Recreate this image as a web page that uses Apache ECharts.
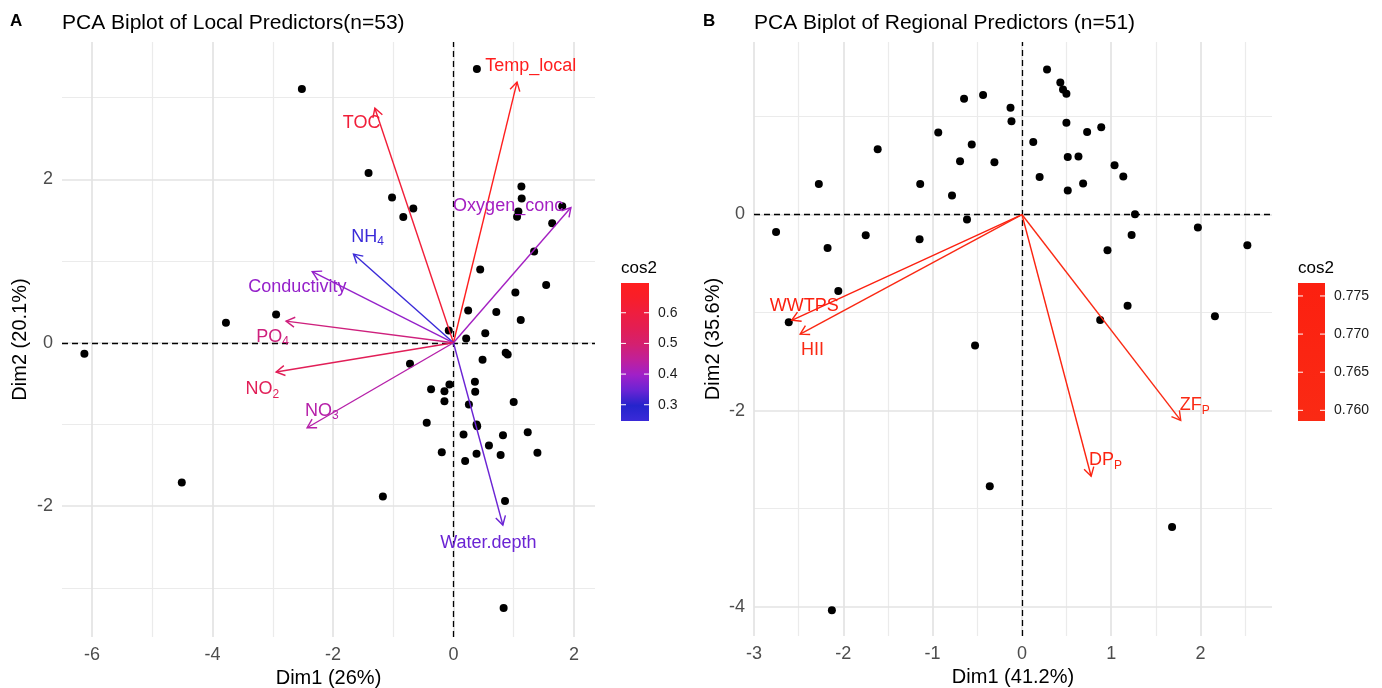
<!DOCTYPE html>
<html lang="en">
<head>
<meta charset="UTF-8">
<title>PCA biplots</title>
<script src="https://cdn.jsdelivr.net/npm/echarts@6/dist/echarts.min.js"></script>
<style>
    html, body { margin: 0; padding: 0; background: #fff; }
    #chart { width: 1382px; height: 688px; }
</style>
</head>
<body>
<div id="chart"></div>
<script>
// panel A - individuals (Dim1, Dim2)
var localPts = [
    [-2.517, 3.106], [-1.41, 2.077], [-1.02, 1.777], [-0.833, 1.54], [-0.667, 1.642],
    [-2.945, 0.345], [-3.778, 0.244], [-0.078, 0.15], [-6.128, -0.134], [-0.722, -0.256],
    [-0.372, -0.569], [-0.15, -0.593], [-0.067, -0.512], [-0.15, -0.715], [-0.444, -0.98],
    [-0.194, -1.341], [-4.511, -1.711], [-1.172, -1.882], [1.128, 1.911], [1.133, 1.764],
    [1.078, 1.606], [1.056, 1.541], [1.806, 1.671], [1.639, 1.463], [1.339, 1.118],
    [0.444, 0.898], [1.539, 0.707], [1.028, 0.614], [0.244, 0.394], [0.711, 0.378],
    [1.117, 0.28], [0.528, 0.118], [0.211, 0.052], [0.867, -0.122], [0.9, -0.142],
    [0.483, -0.207], [0.356, -0.476], [0.361, -0.598], [0.256, -0.756], [1.0, -0.724],
    [0.383, -1.0], [0.394, -1.02], [0.167, -1.122], [0.822, -1.13], [1.233, -1.094],
    [0.589, -1.256], [0.383, -1.358], [0.783, -1.374], [1.394, -1.346], [0.194, -1.447],
    [0.856, -1.935], [0.833, -3.244], [0.389, 3.35]
];
// panel A - variables
var localVars = ['Temp_local', 'TOC', 'Oxygen_conc', 'NH', 'Conductivity', 'PO', 'NO', 'NO', 'Water.depth'];
var localSubs = ['', '', '', '4', '', '4', '2', '3', ''];
var localVecs = [[1.055, 3.19], [-1.305, 2.87], [1.95, 1.655], [-1.66, 1.085], [-2.345, 0.87],
    [-2.78, 0.265], [-2.945, -0.357], [-2.43, -1.04], [0.82, -2.23]];
var localCos2 = [0.697, 0.613, 0.404, 0.248, 0.387, 0.481, 0.543, 0.431, 0.348];
var localLabelAt = [[1.283, 3.39], [-1.525, 2.683], [0.908, 1.674], [-1.425, 1.293], [-2.592, 0.679],
    [-3.005, 0.069], [-3.175, -0.569], [-2.187, -0.837], [0.58, -2.45]];

// panel B - individuals
var regionalPts = [
    [0.281, 1.48], [-0.648, 1.18], [-0.435, 1.22], [-0.128, 1.088], [-0.117, 0.952],
    [-0.937, 0.837], [-0.562, 0.714], [-1.615, 0.666], [0.127, 0.741], [-0.693, 0.544],
    [-0.308, 0.534], [0.198, 0.384], [-2.274, 0.312], [-1.139, 0.312], [-0.783, 0.194],
    [-0.615, -0.051], [-2.753, -0.178], [-1.749, -0.211], [-1.146, -0.252], [-2.176, -0.341],
    [-2.056, -0.78], [-2.611, -1.099], [-0.525, -1.337], [-0.36, -2.772], [-2.128, -4.038],
    [0.43, 1.347], [0.46, 1.276], [0.498, 1.231], [0.498, 0.935], [0.888, 0.891],
    [0.73, 0.843], [0.513, 0.588], [0.633, 0.592], [1.037, 0.503], [1.135, 0.388],
    [0.685, 0.316], [0.513, 0.245], [1.266, 0.003], [1.97, -0.133], [1.228, -0.208],
    [2.524, -0.313], [0.958, -0.364], [1.183, -0.932], [0.876, -1.075], [2.161, -1.038],
    [1.681, -3.188]
];
// panel B - variables
var regionalVars = ['WWTPS', 'HII', 'DP', 'ZF'];
var regionalSubs = ['', '', 'P', 'P'];
var regionalVecs = [[-2.578, -1.079], [-2.483, -1.221], [0.775, -2.67], [1.778, -2.10]];
var regionalCos2 = [0.7767, 0.7625, 0.7700, 0.7586];
var regionalLabelAt = [[-2.437, -0.936], [-2.345, -1.378], [0.936, -2.507], [1.936, -1.946]];

// axes ticks
var xTicksA = [-6, -4, -2, 0, 2], xMinorA = [-5, -3, -1, 1];
var yTicksA = [-2, 0, 2], yMinorA = [-3, -1, 1, 3];
var xTicksB = [-3, -2, -1, 0, 1, 2], xMinorB = [-2.5, -1.5, -0.5, 0.5, 1.5, 2.5];
var yTicksB = [-4, -2, 0], yMinorB = [-3, -1, 1];

// colour scales (cos2)
var cosRangeA = [0.247, 0.697];
var cosColorsA = ['#3a2ad8', '#2424cc', '#6a24d4', '#a020c8', '#c0209a', '#d42070', '#e21e55', '#ee1e40', '#f81e2a', '#ff1e1e'];
var cosTicksA = [0.3, 0.4, 0.5, 0.6];
var cosRangeB = [0.7586, 0.7767];
var cosColorsB = ['#fa2a14', '#fc2010'];
var cosTicksB = [0.760, 0.765, 0.770, 0.775];

var FONT = "'Liberation Sans', Arial, 'DejaVu Sans', sans-serif";

function tickFormatter(ticks) {
    return function (v) {
        for (var i = 0; i < ticks.length; i++) {
            if (Math.abs(v - ticks[i]) < 1e-6) return String(ticks[i]);
        }
        return '';
    };
}

function makeAxis(gridIndex, min, max, ticks, name, gap) {
    return {
        type: 'value', gridIndex: gridIndex, min: min, max: max, interval: 0.1,
        name: name, nameLocation: 'middle', nameGap: gap,
        nameTextStyle: { color: '#000', fontSize: 20, fontFamily: FONT },
        axisLine: { show: false }, axisTick: { show: false }, splitLine: { show: false },
        axisLabel: { color: '#4d4d4d', fontSize: 18, fontFamily: FONT, margin: 9, formatter: tickFormatter(ticks) }
    };
}

function gridSeries(xi, xMaj, xMin, yMaj, yMin) {
    var major = { color: '#e3e3e3', width: 1.7, type: 'solid' };
    var minor = { color: '#ebebeb', width: 1.2, type: 'solid' };
    var zero = { color: '#000', width: 1.3, type: [6, 4] };
    var d = [];
    xMin.forEach(function (v) { d.push({ xAxis: v, lineStyle: minor }); });
    yMin.forEach(function (v) { d.push({ yAxis: v, lineStyle: minor }); });
    xMaj.forEach(function (v) { d.push({ xAxis: v, lineStyle: major }); });
    yMaj.forEach(function (v) { d.push({ yAxis: v, lineStyle: major }); });
    d.push({ xAxis: 0, lineStyle: zero });
    d.push({ yAxis: 0, lineStyle: zero });
    return {
        type: 'line', xAxisIndex: xi, yAxisIndex: xi, data: [], z: 1, silent: true,
        markLine: { silent: true, z: 1, symbol: ['none', 'none'], label: { show: false }, animation: false, data: d }
    };
}

function arrowSeries(xi, vecs, cos2, labelAt, names, subs) {
    var data = vecs.map(function (v, i) { return [v[0], v[1], cos2[i], labelAt[i][0], labelAt[i][1]]; });
    return {
        type: 'custom', xAxisIndex: xi, yAxisIndex: xi, data: data, z: 6, silent: true, clip: false,
        encode: { x: 0, y: 1 },
        renderItem: function (params, api) {
            var o = api.coord([0, 0]);
            var h = api.coord([api.value(0), api.value(1)]);
            var lp = api.coord([api.value(3), api.value(4)]);
            var color = api.visual('color');
            var ang = Math.atan2(h[1] - o[1], h[0] - o[0]);
            var len = 10, spread = Math.PI / 6;
            var p1 = [h[0] - len * Math.cos(ang - spread), h[1] - len * Math.sin(ang - spread)];
            var p2 = [h[0] - len * Math.cos(ang + spread), h[1] - len * Math.sin(ang + spread)];
            var name = names[params.dataIndex], sub = subs[params.dataIndex];
            var txt = sub ? '{m|' + name + '}{s|' + sub + '}' : '{m|' + name + '}';
            return {
                type: 'group', children: [
                    { type: 'line', shape: { x1: o[0], y1: o[1], x2: h[0], y2: h[1] }, style: { stroke: color, lineWidth: 1.4 } },
                    { type: 'polyline', shape: { points: [p1, h, p2] }, style: { stroke: color, fill: null, lineWidth: 1.4 } },
                    {
                        type: 'text', x: lp[0], y: lp[1],
                        style: {
                            text: txt, fill: color, align: 'center', verticalAlign: 'middle',
                            fontSize: 18, fontFamily: FONT,
                            rich: {
                                m: { fill: color, fontSize: 18, fontFamily: FONT, lineHeight: 22 },
                                s: { fill: color, fontSize: 12, fontFamily: FONT, lineHeight: 14, verticalAlign: 'bottom' }
                            }
                        }
                    }
                ]
            };
        }
    };
}

function colorbar(x, y, w, h, range, colors, ticks, digits) {
    var stops = colors.map(function (c, i) { return { offset: 1 - i / (colors.length - 1), color: c }; }).reverse();
    var els = [];
    els.push({ type: 'text', x: x, y: y - 15, style: { text: 'cos2', fill: '#000', fontSize: 17, fontFamily: FONT, align: 'left', verticalAlign: 'middle' } });
    els.push({ type: 'rect', shape: { x: x, y: y, width: w, height: h }, style: { fill: new echarts.graphic.LinearGradient(0, 0, 0, 1, stops) } });
    ticks.forEach(function (t) {
        var ty = y + (range[1] - t) / (range[1] - range[0]) * h;
        els.push({ type: 'line', shape: { x1: x, y1: ty, x2: x + 5, y2: ty }, style: { stroke: '#fff', lineWidth: 1 } });
        els.push({ type: 'line', shape: { x1: x + w - 5, y1: ty, x2: x + w, y2: ty }, style: { stroke: '#fff', lineWidth: 1 } });
        els.push({ type: 'text', x: x + w + 9, y: ty, style: { text: t.toFixed(digits), fill: '#1a1a1a', fontSize: 14, fontFamily: FONT, align: 'left', verticalAlign: 'middle' } });
    });
    return els;
}

var chart = echarts.init(document.getElementById('chart'));

var option = {
    animation: false,
    backgroundColor: '#fff',
    title: [
        { text: 'A', left: 10, top: 13, padding: 0, textStyle: { fontSize: 17, fontWeight: 'bold', color: '#000', fontFamily: FONT } },
        { text: 'PCA Biplot of Local Predictors(n=53)', left: 62, top: 13, padding: 0, textStyle: { fontSize: 21, fontWeight: 'normal', color: '#000', fontFamily: FONT } },
        { text: 'B', left: 703, top: 13, padding: 0, textStyle: { fontSize: 17, fontWeight: 'bold', color: '#000', fontFamily: FONT } },
        { text: 'PCA Biplot of Regional Predictors (n=51)', left: 754, top: 13, padding: 0, textStyle: { fontSize: 21, fontWeight: 'normal', color: '#000', fontFamily: FONT } }
    ],
    grid: [
        { left: 62, top: 42, width: 533, height: 595, outerBoundsMode: 'none' },
        { left: 754, top: 42, width: 518, height: 594, outerBoundsMode: 'none' }
    ],
    xAxis: [
        makeAxis(0, -6.5, 2.35, xTicksA, 'Dim1 (26%)', 28),
        makeAxis(1, -3.0, 2.8, xTicksB, 'Dim1 (41.2%)', 28)
    ],
    yAxis: [
        makeAxis(0, -3.6, 3.68, yTicksA, 'Dim2 (20.1%)', 32),
        makeAxis(1, -4.3, 1.76, yTicksB, 'Dim2 (35.6%)', 31)
    ],
    visualMap: [
        { type: 'continuous', show: false, seriesIndex: 2, dimension: 2, min: cosRangeA[0], max: cosRangeA[1], inRange: { color: cosColorsA } },
        { type: 'continuous', show: false, seriesIndex: 5, dimension: 2, min: cosRangeB[0], max: cosRangeB[1], inRange: { color: cosColorsB } }
    ],
    series: [
        gridSeries(0, xTicksA, xMinorA, yTicksA, yMinorA),
        { type: 'scatter', xAxisIndex: 0, yAxisIndex: 0, data: localPts, symbolSize: 8, itemStyle: { color: '#000', opacity: 1 }, z: 5, silent: true },
        arrowSeries(0, localVecs, localCos2, localLabelAt, localVars, localSubs),
        gridSeries(1, xTicksB, xMinorB, yTicksB, yMinorB),
        { type: 'scatter', xAxisIndex: 1, yAxisIndex: 1, data: regionalPts, symbolSize: 8, itemStyle: { color: '#000', opacity: 1 }, z: 5, silent: true },
        arrowSeries(1, regionalVecs, regionalCos2, regionalLabelAt, regionalVars, regionalSubs)
    ],
    graphic: colorbar(621, 283, 28, 138, cosRangeA, cosColorsA, cosTicksA, 1)
        .concat(colorbar(1298, 283, 27, 138, cosRangeB, cosColorsB, cosTicksB, 3))
};

chart.setOption(option);
</script>
</body>
</html>
